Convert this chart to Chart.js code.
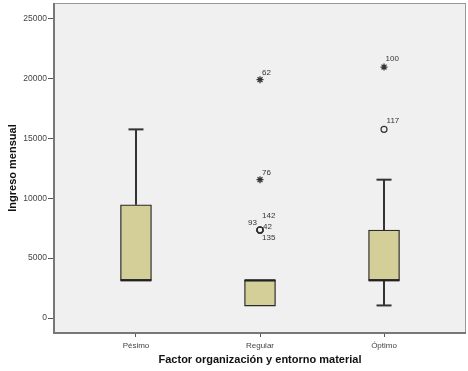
<!DOCTYPE html>
<html>
<head>
<meta charset="utf-8">
<script src="https://cdn.jsdelivr.net/npm/chart.js@4.4.1/dist/chart.umd.min.js"></script>
<style>
  html, body { margin: 0; padding: 0; background: #fff; }
  #wrap { width: 468px; height: 371px; }
</style>
</head>
<body>
<div id="wrap"><canvas id="grafico" width="468" height="371"></canvas></div>
<script>
// Datos del diagrama de caja
const categorias = ['Pésimo', 'Regular', 'Óptimo'];
const minimos = [3150, 1000, 1050];
const cuartil1 = [3150, 1000, 3150];
const medianas = [3150, 3150, 3150];
const cuartil3 = [9450, 3150, 7350];
const maximos = [15750, 3150, 11550];

// Valores atipicos (circulo) y extremos (estrella)
const atipicosGrupo = [2, 2, 2, 2, 3];
const atipicosValor = [7350, 7350, 7350, 7350, 15750];
const atipicosCaso = ['93', '142', '42', '135', '117'];
const extremosGrupo = [2, 2, 3];
const extremosValor = [19900, 11550, 20950];
const extremosCaso = ['62', '76', '100'];

const ticksY = [0, 5000, 10000, 15000, 20000, 25000];

// desplazamiento de las etiquetas de caso (solo estilo)
const despAtipicos = [[-3, -7.5, 'right'], [2, -14, 'left'], [3, -3, 'left'], [2, 8, 'left'], [2.5, -9, 'left']];
const despExtremos = [[2, -7, 'left'], [2, -7, 'left'], [1.5, -8.5, 'left']];

const colorLinea = '#333333';

const datasets = [];

// cajas
datasets.push({
  type: 'bar',
  label: 'caja',
  data: categorias.map((c, i) => ({ x: i + 1, y: [cuartil1[i], cuartil3[i]] })),
  backgroundColor: '#d4cf99',
  borderColor: '#2a2a2a',
  borderWidth: 1.3,
  borderSkipped: false,
  barThickness: 31,
  order: 5
});

// bigotes
categorias.forEach((c, i) => {
  datasets.push({
    type: 'scatter',
    showLine: true,
    data: [{ x: i + 1, y: cuartil3[i] }, { x: i + 1, y: maximos[i] }],
    borderColor: colorLinea,
    borderWidth: 2,
    pointRadius: 0,
    order: 4
  });
  datasets.push({
    type: 'scatter',
    showLine: true,
    data: [{ x: i + 1, y: minimos[i] }, { x: i + 1, y: cuartil1[i] }],
    borderColor: colorLinea,
    borderWidth: 2,
    pointRadius: 0,
    order: 4
  });
});

// topes de los bigotes
datasets.push({
  type: 'scatter',
  data: categorias.flatMap((c, i) => {
    const r = [];
    if (maximos[i] > cuartil3[i]) r.push({ x: i + 1, y: maximos[i] });
    if (minimos[i] < cuartil1[i]) r.push({ x: i + 1, y: minimos[i] });
    return r;
  }),
  pointStyle: 'line',
  pointRadius: 7.5,
  pointBorderWidth: 2,
  pointBorderColor: colorLinea,
  order: 3
});

// medianas
datasets.push({
  type: 'scatter',
  data: categorias.map((c, i) => ({ x: i + 1, y: medianas[i] })),
  pointStyle: 'line',
  pointRadius: 15.5,
  pointBorderWidth: 2.2,
  pointBorderColor: '#222222',
  order: 2
});

// atipicos
datasets.push({
  type: 'scatter',
  label: 'atipicos',
  data: atipicosGrupo.map((g, i) => ({ x: g, y: atipicosValor[i] })),
  pointStyle: 'circle',
  pointRadius: 3,
  pointBorderWidth: 1.2,
  pointBorderColor: colorLinea,
  pointBackgroundColor: 'rgba(0,0,0,0)',
  order: 1
});

// extremos
datasets.push({
  type: 'scatter',
  label: 'extremos',
  data: extremosGrupo.map((g, i) => ({ x: g, y: extremosValor[i] })),
  pointStyle: 'star',
  pointRadius: 3.5,
  pointBorderWidth: 1.3,
  pointBorderColor: colorLinea,
  order: 1
});

// fondo y marco del area de trazado
const marco = {
  id: 'marco',
  beforeDraw(chart) {
    const { ctx, chartArea: a } = chart;
    ctx.save();
    ctx.fillStyle = '#f0f0f0';
    ctx.fillRect(a.left, a.top, a.right - a.left, a.bottom - a.top);
    ctx.restore();
  },
  afterDraw(chart) {
    const { ctx, chartArea: a } = chart;
    ctx.save();
    ctx.strokeStyle = '#999999';
    ctx.lineWidth = 1;
    ctx.strokeRect(a.left + 0.5, a.top + 0.5, a.right - a.left - 1, a.bottom - a.top - 1);
    ctx.strokeStyle = '#777777';
    ctx.lineWidth = 2;
    ctx.beginPath();
    ctx.moveTo(a.left, a.top);
    ctx.lineTo(a.left, a.bottom);
    ctx.lineTo(a.right, a.bottom);
    ctx.stroke();
    ctx.restore();
  }
};

// etiquetas con el numero de caso
const etiquetas = {
  id: 'etiquetas',
  afterDatasetsDraw(chart) {
    const ctx = chart.ctx;
    ctx.save();
    ctx.font = '8px Arial, "Liberation Sans", sans-serif';
    ctx.fillStyle = '#333333';
    ctx.textBaseline = 'middle';
    chart.data.datasets.forEach((ds, di) => {
      let nombres = null, desp = null;
      if (ds.label === 'atipicos') { nombres = atipicosCaso; desp = despAtipicos; }
      if (ds.label === 'extremos') { nombres = extremosCaso; desp = despExtremos; }
      if (!nombres) return;
      chart.getDatasetMeta(di).data.forEach((p, i) => {
        ctx.textAlign = desp[i][2];
        ctx.fillText(nombres[i], p.x + desp[i][0], p.y + desp[i][1]);
      });
    });
    ctx.restore();
  }
};

new Chart(document.getElementById('grafico'), {
  data: { datasets: datasets },
  plugins: [marco, etiquetas],
  options: {
    responsive: false,
    animation: false,
    layout: { autoPadding: false, padding: { top: 3, right: 2, left: 0, bottom: 0 } },
    plugins: { legend: { display: false }, tooltip: { enabled: false } },
    scales: {
      x: {
        type: 'linear',
        offset: false,
        min: 0.339,
        max: 3.661,
        afterBuildTicks: s => { s.ticks = categorias.map((c, i) => ({ value: i + 1 })); },
        afterFit: s => { s.height = 38; s.paddingLeft = 0; s.paddingRight = 0; },
        grid: { display: true, offset: false, drawOnChartArea: false, tickLength: 4, color: '#555555', lineWidth: 1 },
        border: { display: false },
        ticks: {
          callback: v => categorias[Math.round(v) - 1],
          color: '#444444',
          font: { family: 'Arial, "Liberation Sans", sans-serif', size: 8 },
          padding: 4,
          maxRotation: 0
        },
        title: {
          display: true,
          text: 'Factor organización y entorno material',
          color: '#111111',
          font: { family: 'Arial, "Liberation Sans", sans-serif', size: 11, weight: 'bold' },
          padding: { top: 0, bottom: 4 }
        }
      },
      y: {
        type: 'linear',
        min: -1250,
        max: 26300,
        afterBuildTicks: s => { s.ticks = ticksY.map(v => ({ value: v })); },
        afterFit: s => { s.width = 54; s.paddingTop = 0; s.paddingBottom = 0; },
        grid: { display: true, drawOnChartArea: false, tickLength: 6, color: '#555555', lineWidth: 1 },
        border: { display: false },
        ticks: {
          callback: v => String(v),
          color: '#444444',
          font: { family: 'Arial, "Liberation Sans", sans-serif', size: 8.5 },
          padding: 1
        },
        title: {
          display: true,
          text: 'Ingreso mensual',
          color: '#111111',
          font: { family: 'Arial, "Liberation Sans", sans-serif', size: 11, weight: 'bold' },
          padding: { top: 6, bottom: 0 }
        }
      }
    }
  }
});
</script>
</body>
</html>
